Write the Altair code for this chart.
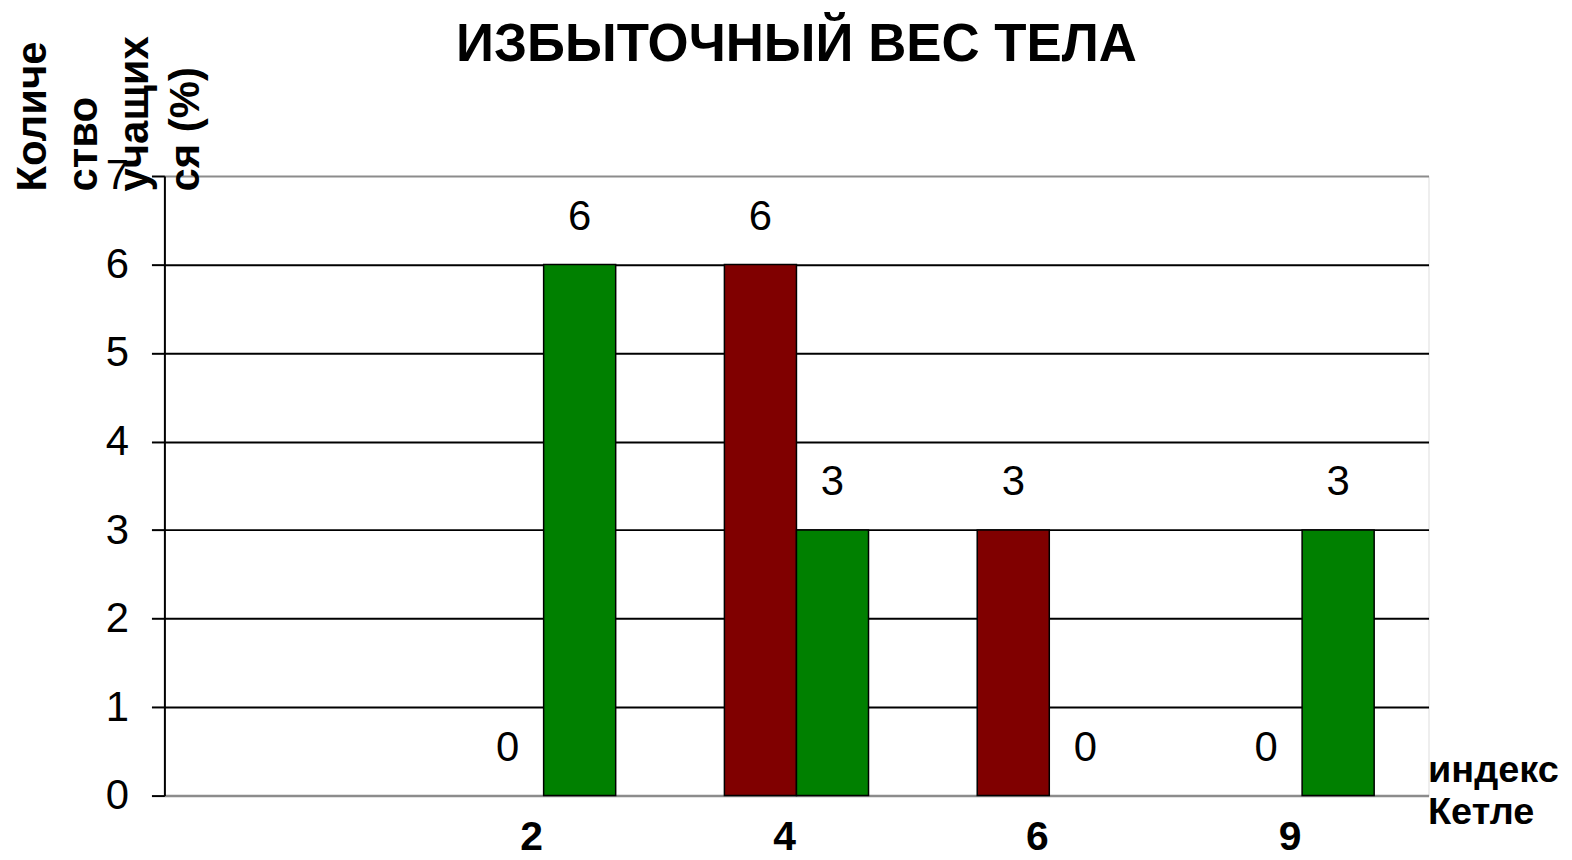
import altair as alt
import pandas as pd

categories = ["", "2", "4", "6", "9"]
kettle = ["2", "4", "6", "9"]
series_red = [0, 6, 3, 0]
series_green = [6, 3, 0, 3]
series_names = ["Ряд 1", "Ряд 2"]
colors = ["#800000", "#008000"]
y_ticks = [0, 1, 2, 3, 4, 5, 6, 7]

rows = []
for i, k in enumerate(kettle):
    rows.append({"k": k, "s": series_names[0], "v": series_red[i]})
    rows.append({"k": k, "s": series_names[1], "v": series_green[i]})
df = pd.DataFrame(rows)

FONT = "Liberation Sans"
GRAY = "#8c8c8c"

x_enc = alt.X(
    "k:N",
    sort=categories,
    scale=alt.Scale(domain=categories, paddingInner=0.43, paddingOuter=0.215),
    axis=alt.Axis(
        labelFontSize=41, labelFontWeight="bold", labelColor="black", labelFont=FONT,
        labelAngle=0, labelPadding=22, labelOffset=-12, ticks=False,
        domainColor=GRAY, domainWidth=2.5,
        title=["индекс", "Кетле"], titleFont=FONT, titleFontSize=38, titleFontWeight="bold",
        titleColor="black", titleX=1268, titleY=-14, titleAlign="left",
        titleBaseline="alphabetic", titleLineHeight=42, titleAngle=0,
    ),
)
y_enc = alt.Y(
    "v:Q",
    scale=alt.Scale(domain=[0, 7], nice=False),
    axis=alt.Axis(
        values=y_ticks, labelFontSize=42, labelFont=FONT, labelColor="black",
        labelPadding=23, tickSize=13, tickWidth=2, tickColor="black",
        domainColor="black", domainWidth=2,
        grid=True, gridWidth=2,
        gridColor={"condition": {"test": "datum.value === 7", "value": GRAY}, "value": "black"},
        title=["Количе", "ство", "учащих", "ся (%)"], titleFont=FONT, titleFontSize=42,
        titleFontWeight="bold", titleColor="black", titleAngle=-90,
        titleAlign="left", titleBaseline="top", titleX=-152, titleY=15,
        titleLineHeight=51,
    ),
)
xoff = alt.XOffset("s:N", sort=series_names, scale=alt.Scale(paddingInner=0, paddingOuter=0))

base = alt.Chart(df)
bars = base.transform_filter("datum.v > 0").mark_bar(stroke="black", strokeWidth=1.5).encode(
    x=x_enc, y=y_enc, xOffset=xoff,
    color=alt.Color("s:N", scale=alt.Scale(domain=series_names, range=colors), legend=None),
)
labels = base.mark_text(font=FONT, fontSize=42, color="black", baseline="alphabetic", dy=-35).encode(
    x=x_enc, y=y_enc, xOffset=xoff, text=alt.Text("v:Q"),
)

chart = (bars + labels).properties(
    width=1269, height=622,
    autosize=alt.AutoSizeParams(type="none"),
    padding={"left": 157, "top": 167, "right": 136, "bottom": 62},
    title=alt.TitleParams("ИЗБЫТОЧНЫЙ ВЕС ТЕЛА", font=FONT, fontSize=53, fontWeight="bold",
                          color="black", anchor="middle", dy=40),
).configure_view(stroke=GRAY, strokeWidth=2.5).configure(background="white")

chart.save("out.html", embed_options={"renderer": "svg", "actions": False})
